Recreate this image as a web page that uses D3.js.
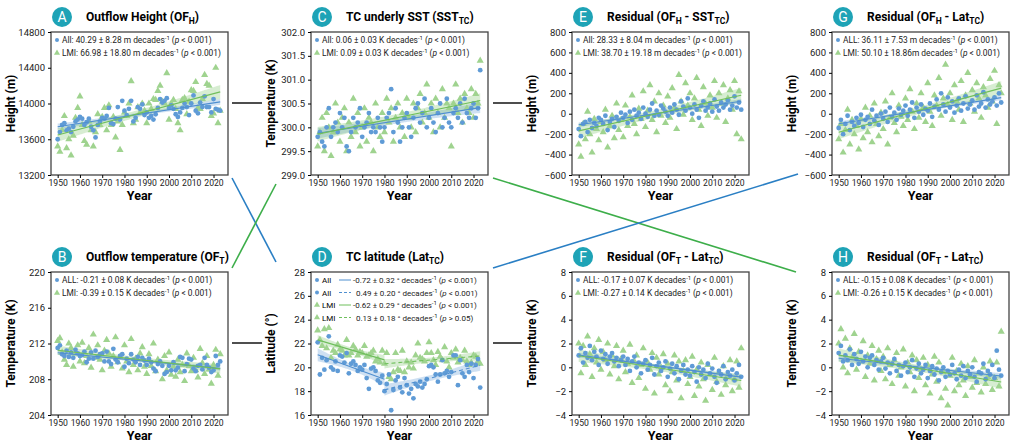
<!DOCTYPE html>
<html><head><meta charset="utf-8">
<script src="https://cdn.jsdelivr.net/npm/d3@7"></script>
<style>body{margin:0;background:#fff}text{font-family:Roboto,"Liberation Sans",sans-serif}</style>
</head><body><svg id="c" width="1013" height="446"></svg>
<script>
const years = d3.range(1950, 2024);

const aAll = [13600,13680,13760,13780,13700,13720,13680,13740,13800,13820,13850,13830,13760,13790,13830,13740,13700,13620,13760,13800,13840,13830,13860,13950,13780,13770,13830,13960,13820,14030,13920,13870,13940,14030,13800,13840,13960,13940,13990,13870,13900,13840,13860,13820,13880,13950,14050,14010,14030,14060,13950,13980,13940,13880,13850,13900,13950,14000,13960,13870,14000,14090,13920,13890,14010,13960,14080,13960,13960,13900,14050,13940,13930,13920];
const aLmi = [13520,13460,13700,13860,13500,13600,13420,13640,13840,13950,14080,13760,13580,13540,13800,13700,13520,13680,13880,13760,13850,13950,13700,13980,13760,13850,13620,13800,13480,13760,13900,13860,14000,14250,13780,13820,13960,13900,14000,13920,13780,14000,13940,14050,14040,14140,14200,14020,14000,14340,13820,14000,14040,13940,13780,13700,14040,14060,13880,14020,14150,14140,14240,13950,13940,14050,14320,14220,14200,13860,13890,14400,13780,13920];
const bAll = [211.5,211.8,210.8,210.6,211.2,210.5,211.0,210.4,211.3,210.9,210.6,210.7,211.1,209.9,210.3,211.0,210.3,211.2,210.5,210.8,210.9,210.0,211.1,210.0,209.7,211.4,210.2,209.9,210.6,210.8,209.4,210.3,209.8,210.8,210.2,209.9,210.5,209.6,210.4,210.1,209.6,210.3,209.9,209.2,208.9,209.7,210.0,209.5,208.6,208.8,209.5,209.0,209.9,209.0,209.3,210.5,210.4,208.9,209.7,210.3,210.2,209.2,208.9,209.5,209.6,209.1,210.4,209.6,209.3,208.8,209.0,210.6,209.6,210.0];
const bLmi = [212.3,212.6,211.0,210.2,209.6,212.0,211.5,209.4,210.9,211.8,210.0,212.1,209.8,210.6,211.5,209.3,213.0,210.4,211.8,210.2,209.0,211.2,212.4,210.9,209.4,210.6,212.7,209.9,210.5,209.2,211.8,210.0,208.8,212.5,209.6,210.3,209.0,210.9,211.6,209.4,208.6,210.8,209.5,212.0,208.9,210.2,209.9,208.0,210.6,209.0,211.0,208.5,209.4,208.3,210.2,208.8,209.6,207.8,210.9,209.5,208.9,210.4,209.0,208.2,211.4,209.8,208.6,210.6,209.1,207.5,209.6,211.3,208.4,210.8];
const cAll = [299.8,299.9,299.7,299.6,300.0,300.4,299.8,300.0,300.1,299.9,300.3,300.0,300.2,299.6,299.5,299.9,300.2,300.0,300.1,300.4,299.8,300.0,300.1,300.3,299.9,300.0,299.9,300.2,300.0,299.7,300.0,300.2,300.3,300.8,299.9,300.4,300.1,299.7,300.0,300.2,300.3,300.0,299.8,300.2,300.4,300.5,300.1,300.3,300.6,300.0,300.2,300.4,300.1,299.9,300.3,300.5,300.0,300.2,300.6,300.1,300.0,300.3,300.4,300.2,300.5,300.1,300.6,300.3,300.2,300.4,300.5,300.2,300.4,301.2];
const cLmi = [299.6,299.9,300.2,299.5,300.3,300.0,299.4,299.9,300.5,300.1,299.7,300.2,300.4,299.5,300.1,299.8,300.6,299.9,300.3,299.6,300.0,300.4,299.7,300.2,300.1,299.5,300.5,300.0,299.8,300.3,299.9,300.6,300.1,300.4,299.7,300.2,300.5,300.0,300.3,299.8,300.6,300.2,300.0,300.5,299.9,300.4,300.7,300.1,300.3,300.9,300.2,300.5,299.9,300.6,300.3,300.0,300.8,300.2,300.5,300.4,299.6,300.5,300.9,300.3,300.6,300.1,300.7,300.4,300.3,300.8,300.2,300.7,300.5,301.4];
const dAll = [22.1,19.4,20.8,19.8,20.6,22.6,20.0,19.8,20.5,19.7,21.0,20.9,20.4,21.2,19.5,20.3,20.5,20.2,19.7,20.0,19.8,20.2,19.1,18.2,19.9,20.0,19.7,18.9,18.7,19.3,18.0,18.6,19.4,16.4,18.1,18.9,19.2,18.3,17.9,19.1,18.5,17.8,18.2,17.4,18.6,18.4,18.8,18.3,18.6,19.0,20.1,20.2,20.0,19.4,18.8,19.4,20.6,19.5,19.7,19.2,19.6,21.0,21.0,18.5,20.6,19.5,19.2,20.2,19.6,20.3,19.1,20.2,20.7,18.3];
const dLmi = [23.1,22.3,21.8,23.2,21.6,23.3,20.8,21.4,21.2,21.9,21.5,21.4,21.0,22.3,21.0,21.2,21.8,21.5,21.0,21.3,21.2,21.8,20.9,21.0,21.2,21.4,20.5,20.7,20.4,21.4,20.3,21.2,19.2,19.0,19.6,21.2,19.8,19.7,21.4,19.6,20.5,20.0,20.4,19.9,21.0,22.0,20.8,20.7,20.5,21.2,22.1,21.2,20.6,20.2,21.3,20.9,20.6,21.7,20.5,20.0,21.2,20.8,21.5,20.4,20.8,20.6,21.4,20.5,20.2,20.4,21.0,20.9,20.5,20.3];
const eAll = [-150,-220,-100,-80,-180,-60,-140,-90,-120,-40,-60,-100,-20,-160,-80,-50,-130,-30,-70,10,-40,-10,-90,20,-60,40,-20,10,-50,60,0,-30,40,100,-20,30,-10,80,50,20,-20,60,10,90,40,-10,120,70,30,150,60,0,90,40,-40,80,120,30,60,100,20,140,70,30,110,60,90,130,40,80,170,60,110,40];
const eLmi = [-300,-420,-100,-250,20,-200,-380,-50,-150,-260,-80,-180,40,-330,-120,-20,-240,100,-160,-60,-230,80,-120,-30,180,-100,-200,50,-50,220,-130,30,280,-60,120,-180,200,-20,80,-90,170,-40,250,60,-150,380,120,-10,300,80,200,-60,150,350,40,-120,260,100,-20,180,60,320,-40,200,100,280,-80,150,230,40,320,-200,220,-250];
const fAll = [1.0,1.6,0.4,1.2,0.8,1.8,0.6,1.3,0.9,0.2,1.4,0.7,1.1,0.3,0.9,1.2,0.5,0.8,0.1,0.6,0.9,0.2,0.7,-0.3,0.5,0.9,0.0,0.4,-0.5,0.3,0.6,-0.2,0.2,0.8,-0.6,0.1,0.4,-0.3,0.0,0.5,-0.8,-0.1,0.3,-0.5,0.1,-1.0,-0.3,0.2,-0.6,-0.2,-0.7,0.1,-0.4,-1.2,0.0,-0.6,-0.2,-0.9,0.3,-0.5,-0.1,-0.8,-1.3,-0.3,-0.6,0.1,-1.0,-0.4,-0.7,-0.2,-1.1,-0.5,0.2,-0.8];
const fLmi = [2.0,-0.5,1.8,0.2,2.6,1.1,-0.8,1.6,0.4,2.3,-0.2,1.3,0.6,2.0,-0.6,1.0,0.1,1.8,-1.0,0.7,1.4,-0.4,0.3,1.9,-1.3,0.5,1.0,-0.9,0.2,1.6,-1.8,0.4,-0.2,1.2,-2.2,0.8,-0.6,0.0,1.1,-1.5,0.3,-2.0,-0.4,1.0,-1.1,0.5,-2.6,-0.3,0.6,-1.4,-0.8,0.9,-2.4,-0.2,-1.6,0.4,-1.0,-2.8,0.2,-0.6,-1.9,0.8,-1.2,-0.4,-2.3,0.1,-1.5,-0.7,0.6,-2.0,-1.0,0.5,-1.7,1.6];
const gAll = [-140,-60,-200,-100,-20,-160,-80,-120,-40,-90,-10,-130,-60,-30,-100,40,-70,-20,-110,0,-50,20,-80,60,-30,10,-60,50,-10,30,80,-20,40,110,-40,60,20,90,-10,50,30,100,-30,70,140,40,200,90,20,160,60,120,10,80,150,30,100,170,50,90,130,40,180,70,100,210,60,140,90,120,160,80,200,110];
const gLmi = [-250,-100,-380,-160,40,-300,-60,-200,-120,-350,-50,-240,60,-180,-20,-280,100,-100,-220,10,-150,120,-300,-40,200,-90,-180,80,-30,-120,150,-60,240,20,-150,100,-40,200,60,-80,300,20,-120,180,80,350,-20,150,480,90,200,-60,280,120,40,320,-80,180,400,100,230,20,300,150,-40,260,180,60,340,120,420,-100,280,200];
const hAll = [1.2,1.8,0.5,1.0,0.6,1.5,0.2,1.1,0.7,0.3,1.3,0.5,0.9,0.0,0.8,1.0,0.2,0.6,-0.2,0.5,0.8,-0.1,0.4,-0.5,0.3,0.7,-0.3,0.2,-0.7,0.1,0.4,-0.4,0.0,0.6,-0.8,-0.1,0.3,-0.5,-0.2,0.2,-0.9,-0.3,0.1,-0.6,-0.1,-1.1,-0.4,0.0,-0.8,-0.3,-0.6,0.2,-0.5,-1.0,-0.2,-0.7,0.1,-0.9,-0.3,-0.6,0.0,-0.8,-1.2,-0.4,-0.5,0.3,-1.0,-0.3,-0.6,0.2,-0.9,1.4,-0.2,-0.7];
const hLmi = [2.0,3.2,0.0,2.4,-0.5,1.6,0.8,2.8,-0.2,1.3,0.5,2.2,-0.8,1.0,0.3,1.8,-1.1,0.7,1.4,-0.3,0.9,-1.0,1.6,0.2,-1.4,0.6,1.2,-0.7,0.0,1.5,-1.6,0.4,-0.4,1.0,-2.0,0.6,-0.9,-0.2,0.8,-1.5,0.2,-2.2,-0.6,0.9,-1.2,0.4,-2.6,-0.4,-1.8,-3.2,-0.7,0.8,-2.0,-0.3,-1.5,0.3,-1.1,-2.4,0.1,-0.8,-1.7,0.6,-1.3,-0.5,-2.1,0.0,-1.4,-0.8,0.5,-1.9,-0.9,0.4,-1.6,3.0];

const BLUE = "#5f9bd6", GREEN = "#9fd38f", BLUEL = "#4f8fd0", GREENL = "#6fbf5c";
const svg = d3.select("#c");

const panels = [
  {id:"A", col:0, row:0, t:["Outflow Height (OF","H",")"], yl:"Height (m)", dom:[13200,14800], step:400, all:aAll, lmi:aLmi,
   leg:[["All: 40.29 ± 8.28 m decades","(p < 0.001)"],["LMI: 66.98 ± 18.80 m decades","(p < 0.001)"]]},
  {id:"B", col:0, row:1, t:["Outflow temperature (OF","T",")"], yl:"Temperature (K)", dom:[204,220], step:4, all:bAll, lmi:bLmi,
   leg:[["ALL: -0.21 ± 0.08 K decades","(p < 0.001)"],["LMI: -0.39 ± 0.15 K decades","(p < 0.001)"]]},
  {id:"C", col:1, row:0, t:["TC underly SST (SST","TC",")"], yl:"Temperature (K)", dom:[299,302], step:0.5, all:cAll, lmi:cLmi,
   leg:[["All: 0.06 ± 0.03 K decades","(p < 0.001)"],["LMI: 0.09 ± 0.03 K decades","(p < 0.001)"]]},
  {id:"D", col:1, row:1, t:["TC latitude (Lat","TC",")"], yl:"Latitude (°)", dom:[16,28], step:2, all:dAll, lmi:dLmi, split:1980},
  {id:"E", col:2, row:0, t:["Residual (OF","H"," - SST","TC",")"], yl:"Height (m)", dom:[-600,800], step:200, all:eAll, lmi:eLmi,
   leg:[["All: 28.33 ± 8.04 m decades","(p < 0.001)"],["LMI: 38.70 ± 19.18 m decades","(p < 0.001)"]]},
  {id:"F", col:2, row:1, t:["Residual (OF","T"," - Lat","TC",")"], yl:"Temperature (K)", dom:[-4,8], step:2, all:fAll, lmi:fLmi,
   leg:[["ALL: -0.17 ± 0.07 K decades","(p < 0.001)"],["LMI: -0.27 ± 0.14 K decades","(p < 0.001)"]]},
  {id:"G", col:3, row:0, t:["Residual (OF","H"," - Lat","TC",")"], yl:"Height (m)", dom:[-600,800], step:200, all:gAll, lmi:gLmi,
   leg:[["ALL: 36.11 ± 7.53 m decades","(p < 0.001)"],["LMI: 50.10 ± 18.86m decades","(p < 0.001)"]]},
  {id:"H", col:3, row:1, t:["Residual (OF","T"," - Lat","TC",")"], yl:"Temperature (K)", dom:[-4,8], step:2, all:hAll, lmi:hLmi,
   leg:[["ALL: -0.15 ± 0.08 K decades","(p < 0.001)"],["LMI: -0.26 ± 0.15 K decades","(p < 0.001)"]]}
];
const colX = [51, 311, 572, 832], rowY = [32, 272], PW = 177, PH = 143;

// connector lines between panels
const conn = [
  [232,103,262,103,"#222"],[493,103,522,103,"#222"],[232,343,262,343,"#222"],[493,343,522,343,"#222"],
  [232,178,276,262,"#2a7fc4"],[232,268,276,184,"#3dae4a"],[493,178,796,272,"#3dae4a"],[493,268,798,174,"#2a7fc4"]
];
svg.selectAll("line.conn").data(conn).join("line").attr("class","conn")
  .attr("x1",d=>d[0]).attr("y1",d=>d[1]).attr("x2",d=>d[2]).attr("y2",d=>d[3])
  .attr("stroke",d=>d[4]).attr("stroke-width",1.6);

function fit(xs, ys) {
  const n = xs.length, mx = d3.mean(xs), my = d3.mean(ys);
  let sxx = 0, sxy = 0;
  xs.forEach((x,i) => { sxx += (x-mx)**2; sxy += (x-mx)*(ys[i]-my); });
  const b = sxy/sxx, a = my - b*mx;
  const s = Math.sqrt(d3.sum(xs, (x,i) => (ys[i]-a-b*x)**2)/(n-2));
  return {x0:d3.min(xs), x1:d3.max(xs), f:x=>a+b*x, se:x=>2*s*Math.sqrt(1/n+(x-mx)**2/sxx)};
}

function sup(t) {
  t.append("tspan").attr("font-size",6).attr("dy",-3).text("-1");
  t.append("tspan").attr("dy",3).text(" (");
  t.append("tspan").attr("font-style","italic").text("p");
}

panels.forEach(p => {
  const g = svg.append("g").attr("transform",`translate(${colX[p.col]},${rowY[p.row]})`);
  const x = d3.scaleLinear().domain([1947,2026.5]).range([0,PW]);
  const y = d3.scaleLinear().domain(p.dom).range([PH,0]);

  const fits = [];
  [[p.all,BLUEL],[p.lmi,GREENL]].forEach(([vals,col]) => {
    const segs = p.split ? [[1950,p.split],[p.split,2023]] : [[1950,2023]];
    segs.forEach(([s0,s1],si) => {
      const idx = years.map((yr,i)=>i).filter(i => years[i]>=s0 && years[i]<=s1);
      fits.push({fr:fit(idx.map(i=>years[i]), idx.map(i=>vals[i])), col, dash: si==1});
    });
  });
  fits.forEach(({fr,col}) => {
    const xs = d3.range(fr.x0, fr.x1+0.01, 0.5);
    g.append("path").attr("fill",col).attr("opacity",0.28)
      .attr("d", d3.area().x(d=>x(d)).y0(d=>y(fr.f(d)-fr.se(d))).y1(d=>y(fr.f(d)+fr.se(d)))(xs));
  });

  g.selectAll("path.tri").data(p.lmi).join("path")
    .attr("d", d3.symbol(d3.symbolTriangle, 22))
    .attr("transform",(d,i)=>`translate(${x(years[i])},${y(d)})`).attr("fill",GREEN);
  g.selectAll("circle").data(p.all).join("circle")
    .attr("cx",(d,i)=>x(years[i])).attr("cy",d=>y(d)).attr("r",2.4).attr("fill",BLUE);

  fits.forEach(({fr,col,dash}) => {
    g.append("line").attr("x1",x(fr.x0)).attr("x2",x(fr.x1)).attr("y1",y(fr.f(fr.x0))).attr("y2",y(fr.f(fr.x1)))
      .attr("stroke",col).attr("stroke-width",1.1).attr("stroke-dasharray",dash?"4,3":null);
  });

  g.append("rect").attr("width",PW).attr("height",PH).attr("fill","none").attr("stroke","#444").attr("stroke-width",1.3);
  const ticksY = d3.range(p.dom[0], p.dom[1]+p.step/2, p.step);
  g.append("g").call(d3.axisLeft(y).tickValues(ticksY).tickSize(3).tickFormat(p.step<1?d3.format(".1f"):d3.format("d")))
    .call(a=>{a.select(".domain").remove();a.selectAll("text").attr("font-size",9.5).attr("fill","#222");});
  g.append("g").attr("transform",`translate(0,${PH})`)
    .call(d3.axisBottom(x).tickValues(d3.range(1950,2021,10)).tickSize(3).tickPadding(2).tickFormat(d3.format("d")))
    .call(a=>{a.select(".domain").remove();a.selectAll("text").attr("font-size",8.6).attr("fill","#222");});

  g.append("text").attr("x",PW/2).attr("y",PH+25).attr("text-anchor","middle").attr("font-size",12.5).attr("font-weight","bold").text("Year");
  g.append("text").attr("transform",`translate(${-36},${PH/2}) rotate(-90)`).attr("text-anchor","middle")
    .attr("font-size",12).attr("font-weight","bold").text(p.yl);

  // panel badge + title
  g.append("circle").attr("cx",11).attr("cy",-15).attr("r",10).attr("fill","#1ea3b6");
  g.append("text").attr("x",11).attr("y",-10).attr("text-anchor","middle").attr("fill","#fff").attr("font-size",14).text(p.id);
  const tt = g.append("text").attr("x",35).attr("y",-11).attr("font-size",12).attr("font-weight","bold");
  p.t.forEach((s,i) => tt.append("tspan").attr("font-size",i%2?8.5:12).attr("dy",i%2?3:(i?-3:0)).text(s));

  // legend
  if (p.leg) {
    p.leg.forEach((l,i) => {
      const ly = 11 + i*13;
      if (i==0) g.append("circle").attr("cx",6).attr("cy",ly-3).attr("r",2).attr("fill",BLUE);
      else g.append("path").attr("d",d3.symbol(d3.symbolTriangle,16)).attr("transform",`translate(6,${ly-3})`).attr("fill",GREEN);
      const t = g.append("text").attr("x",11).attr("y",ly).attr("font-size",8.4).attr("fill","#222");
      t.append("tspan").text(l[0]);
      sup(t);
      t.append("tspan").text(l[1].slice(2));
    });
  } else {
    const rowsD = [["All",-0.72,0.32,"<"],["All",0.49,0.20,"<"],["LMI",-0.62,0.29,"<"],["LMI",0.13,0.18,">"]];
    rowsD.forEach((r,i) => {
      const ly = 11 + i*12.5, isB = r[0]=="All";
      if (isB) g.append("circle").attr("cx",6).attr("cy",ly-3).attr("r",2).attr("fill",BLUE);
      else g.append("path").attr("d",d3.symbol(d3.symbolTriangle,16)).attr("transform",`translate(6,${ly-3})`).attr("fill",GREEN);
      g.append("text").attr("x",11).attr("y",ly).attr("font-size",8).text(r[0]);
      g.append("line").attr("x1",28).attr("x2",40).attr("y1",ly-3).attr("y2",ly-3)
        .attr("stroke",isB?BLUEL:GREENL).attr("stroke-dasharray",i%2?"3,2":null);
      const t = g.append("text").attr("x",r[1]<0?42:45).attr("y",ly).attr("font-size",8).attr("fill","#222");
      t.append("tspan").text(`${r[1].toFixed(2)} ± ${r[2].toFixed(2)} ° decades`);
      sup(t);
      t.append("tspan").text(` ${r[3]} ${r[3]=="<"?"0.001":"0.05"})`);
    });
  }
});
</script></body></html>
